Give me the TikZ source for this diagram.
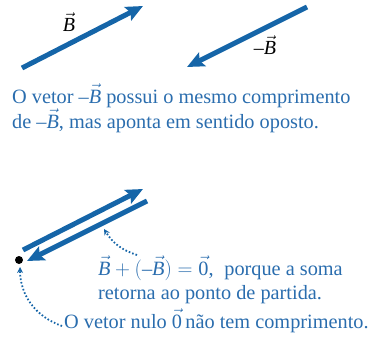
\documentclass[tikz,border=0pt]{standalone}
\usepackage{fontspec}
\setmainfont{Liberation Serif}
\usetikzlibrary{arrows.meta}
\definecolor{vblue}{HTML}{1565A8}
\definecolor{tblue}{HTML}{2A6DAE}
\newcommand\vecB{\ensuremath{\vec{\textit{B}}}}
\newcommand\vecZ{\ensuremath{\vec{\textrm{0}}}}
\tikzset{
  vec/.style={line width=5pt, color=vblue, -{Stealth[length=17pt,width=15pt,inset=3pt]}},
  note/.style={line width=1.8pt, dash pattern=on 1.6pt off 2pt, color=vblue, -{Stealth[length=6pt,width=6pt]}},
  txt/.style={color=tblue, font=\fontsize{20.3}{25}\selectfont, inner sep=0pt, anchor=base west, align=left},
  lbl/.style={font=\fontsize{20}{22}\selectfont, inner sep=0pt}
}
\begin{document}
\begin{tikzpicture}[x=1pt,y=-1pt]
\useasboundingbox (0,0) rectangle (388,337);
% top vectors
\coordinate (b1s) at (22,68);
\coordinate (b1e) at (143,6);
\coordinate (m1s) at (307,7);
\coordinate (m1e) at (187,67);
\draw[vec] (b1s) -- (b1e);
\draw[vec] (m1s) -- (m1e);
\node[lbl] (lB) at (69,22) {\vecB};
\node[lbl] (lmB) at (265,45) {–\vecB};
\node[txt] (t1) at (12,103) {O vetor –\vecB{} possui o mesmo comprimento};
\node[txt] (t2) at (12,128) {de –\vecB, mas aponta em sentido oposto.};
% bottom
\coordinate (b2s) at (23,250);
\coordinate (b2e) at (143,189);
\coordinate (m2s) at (147,201);
\coordinate (m2e) at (27,261);
\draw[vec] (b2s) -- (b2e);
\draw[vec] (m2s) -- (m2e);
\fill (19,260) circle (4pt) coordinate (dot);
\node[txt] (t3) at (98,275) {$\vecB + (\mbox{–}\vecB) = \vecZ$,\; porque a soma};
\node[txt] (t4) at (98,299) {retorna ao ponto de partida.};
\node[txt] (t5) at (64,328) {O vetor nulo \vecZ\,não tem comprimento.};
\coordinate (n1s) at (137,255);
\coordinate (n1e) at (104,229);
\draw[note] (n1s) to[bend left=20] (n1e);
\coordinate (n2s) at (62,326);
\coordinate (n2e) at (20,267);
\draw[note] (n2s) to[bend left=35] (n2e);
\end{tikzpicture}
\end{document}
